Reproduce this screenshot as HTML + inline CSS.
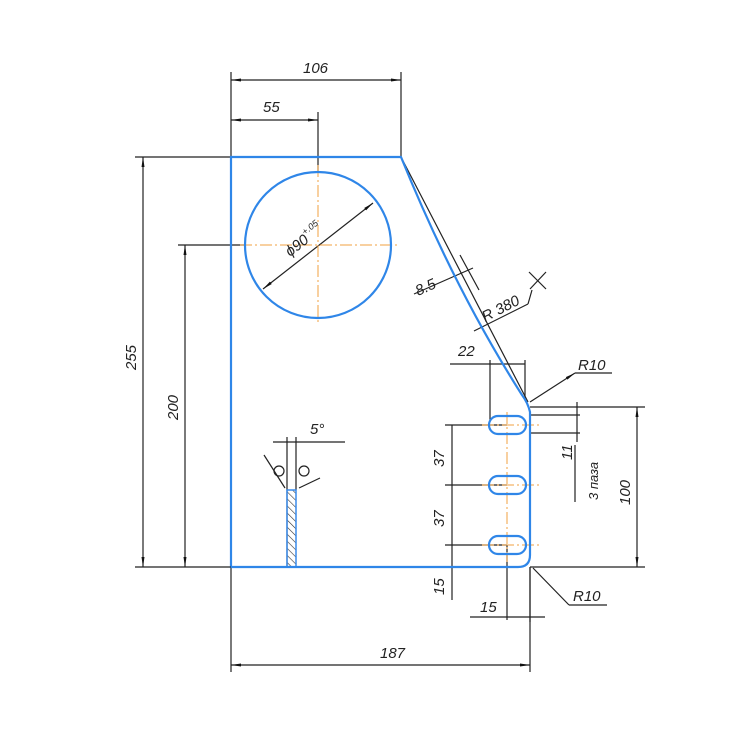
<!DOCTYPE html>
<html><head><meta charset="utf-8"><style>
html,body{margin:0;padding:0;background:#fff;}
svg{display:block;}
text{font-family:"Liberation Sans",sans-serif;font-style:italic;font-size:15px;fill:#222;}
</style></head><body>
<svg width="738" height="737" viewBox="0 0 738 737" xmlns="http://www.w3.org/2000/svg">
<defs>
<marker id="a" viewBox="0 0 10 6" refX="10" refY="3" markerWidth="10" markerHeight="6" orient="auto-start-reverse" markerUnits="userSpaceOnUse"><path d="M0,1.5 L10,3 L0,4.5z" fill="#111"/></marker>
<pattern id="h" width="5" height="5" patternUnits="userSpaceOnUse" patternTransform="rotate(-45)"><line x1="0" y1="0" x2="0" y2="5" stroke="#333" stroke-width="1.2"/></pattern>
</defs>
<g stroke="#222" stroke-width="1.2" fill="none">
<line x1="231" y1="72" x2="231" y2="157"/>
<line x1="401" y1="72" x2="401" y2="157"/>
<line x1="318" y1="112" x2="318" y2="172"/>
<line x1="135" y1="157" x2="231" y2="157"/>
<line x1="178" y1="245" x2="245" y2="245"/>
<line x1="135" y1="567" x2="231" y2="567"/>
<line x1="231" y1="567" x2="231" y2="672"/>
<line x1="530" y1="567" x2="530" y2="672"/>
<line x1="530" y1="407" x2="645" y2="407"/>
<line x1="530" y1="567" x2="645" y2="567"/>
<line x1="231" y1="80" x2="401" y2="80" marker-start="url(#a)" marker-end="url(#a)"/>
<line x1="231" y1="120" x2="318" y2="120" marker-start="url(#a)" marker-end="url(#a)"/>
<line x1="143" y1="157" x2="143" y2="567" marker-start="url(#a)" marker-end="url(#a)"/>
<line x1="185" y1="245" x2="185" y2="567" marker-start="url(#a)" marker-end="url(#a)"/>
<line x1="231" y1="665" x2="530" y2="665" marker-start="url(#a)" marker-end="url(#a)"/>
<line x1="637" y1="407" x2="637" y2="567" marker-start="url(#a)" marker-end="url(#a)"/>
<line x1="263" y1="289" x2="373" y2="203" marker-start="url(#a)" marker-end="url(#a)"/>
<line x1="401" y1="157" x2="528" y2="402"/>
<line x1="414" y1="294" x2="473" y2="268"/>
<line x1="460" y1="255" x2="479" y2="290"/>
<line x1="474" y1="331" x2="528" y2="304"/>
<line x1="528" y1="304" x2="532" y2="290"/>
<line x1="529" y1="272" x2="546" y2="289"/>
<line x1="530" y1="289" x2="546" y2="272"/>
<line x1="450" y1="364" x2="525" y2="364"/>
<line x1="490" y1="360" x2="490" y2="420"/>
<line x1="525" y1="360" x2="525" y2="400"/>
<line x1="530" y1="402" x2="575" y2="373" marker-end="url(#a)"/>
<line x1="575" y1="373" x2="612" y2="373"/>
<line x1="530" y1="415" x2="580" y2="415"/>
<line x1="530" y1="433" x2="580" y2="433"/>
<line x1="577" y1="402" x2="577" y2="442"/>
<line x1="575" y1="445" x2="575" y2="502"/>
<line x1="445" y1="425" x2="507" y2="425"/>
<line x1="445" y1="485" x2="507" y2="485"/>
<line x1="445" y1="545" x2="507" y2="545"/>
<line x1="452" y1="425" x2="452" y2="600"/>
<line x1="507" y1="545" x2="507" y2="620"/>
<line x1="530" y1="567" x2="530" y2="622"/>
<line x1="470" y1="617" x2="545" y2="617"/>
<line x1="533" y1="568" x2="569" y2="605"/>
<line x1="569" y1="605" x2="607" y2="605"/>
<line x1="287" y1="437" x2="287" y2="567"/>
<line x1="296" y1="437" x2="296" y2="490"/>
<line x1="273" y1="442" x2="345" y2="442"/>
<line x1="264" y1="455" x2="285" y2="488"/>
<line x1="299" y1="488" x2="320" y2="478"/>
<circle cx="279" cy="471" r="5"/>
<circle cx="304" cy="471" r="5"/>
</g>
<rect x="287" y="490" width="9" height="77" fill="url(#h)" stroke="#3a8bea" stroke-width="1.5"/>
<g stroke="#f0a040" stroke-width="1" stroke-dasharray="12,3,2,3" fill="none">
<line x1="318" y1="165" x2="318" y2="325"/>
<line x1="240" y1="245" x2="400" y2="245"/>
<line x1="507" y1="412" x2="507" y2="562"/>
<line x1="482" y1="425" x2="540" y2="425"/>
<line x1="482" y1="485" x2="540" y2="485"/>
<line x1="482" y1="545" x2="540" y2="545"/>
</g>
<g stroke="#2f86e8" stroke-width="2.2" fill="none">
<path d="M231,157 L401,157 Q455,290 522,395 Q528,403 530,412 L530,555 Q530,567 518,567 L231,567 Z"/>
<circle cx="318" cy="245" r="73"/>
<rect x="489" y="416" width="37" height="18" rx="9"/>
<rect x="489" y="476" width="37" height="18" rx="9"/>
<rect x="489" y="536" width="37" height="18" rx="9"/>
</g>
<line x1="140" y1="567" x2="231" y2="567" stroke="#222"/>
<text x="303" y="73">106</text>
<text x="263" y="112">55</text>
<text x="310" y="434">5°</text>
<text x="380" y="658">187</text>
<text x="480" y="612">15</text>
<text x="458" y="356">22</text>
<text x="578" y="370">R10</text>
<text x="573" y="601">R10</text>
<text transform="translate(136,370) rotate(-90)">255</text>
<text transform="translate(178,420) rotate(-90)">200</text>
<text transform="translate(444,467) rotate(-90)">37</text>
<text transform="translate(444,527) rotate(-90)">37</text>
<text transform="translate(444,595) rotate(-90)">15</text>
<text transform="translate(630,505) rotate(-90)">100</text>
<text transform="translate(572,460) rotate(-90)">11</text>
<text transform="translate(598,500) rotate(-90)" style="font-size:13px">3 паза</text>
<text transform="translate(290,257) rotate(-38)">ϕ90<tspan dy="-8" style="font-size:9px">+.05</tspan></text>
<text transform="translate(418,296) rotate(-24)">8.5</text>
<text transform="translate(485,322) rotate(-27)">R 380</text>
</svg>
</body></html>
